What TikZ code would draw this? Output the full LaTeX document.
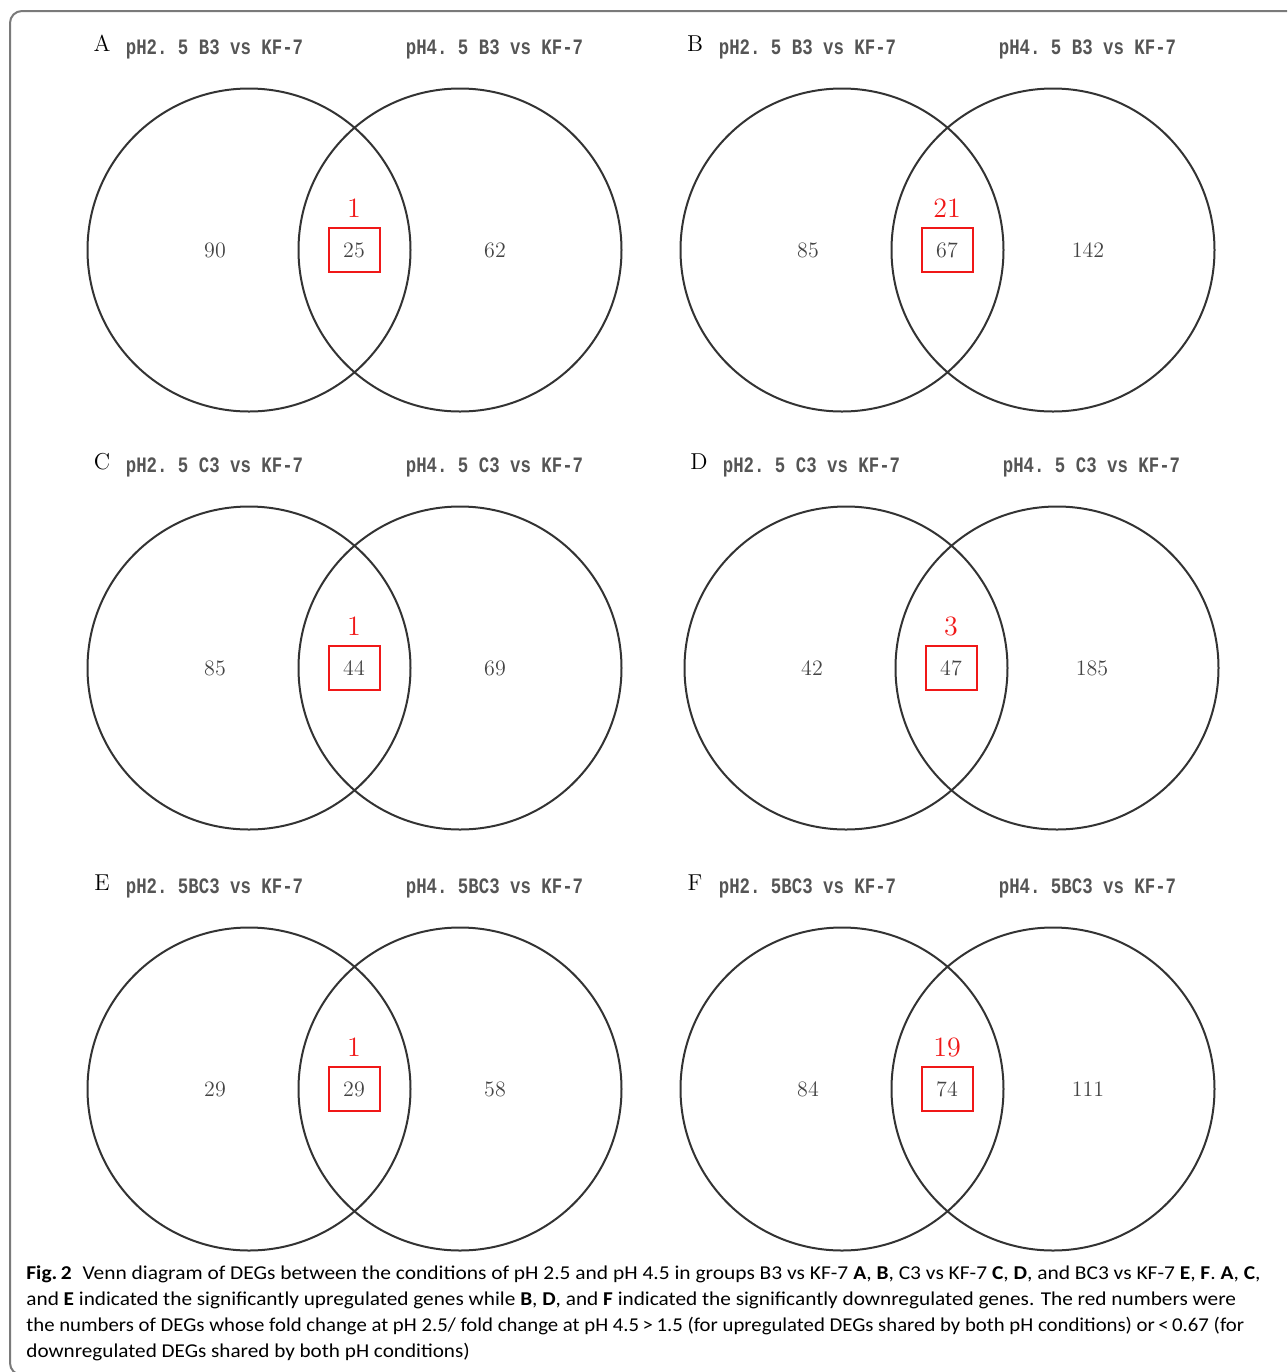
\documentclass[tikz,border=0pt]{standalone}
\usepackage{fontspec}
\newfontfamily\capfont{Carlito}
\newfontfamily\headfont{Liberation Mono}

\definecolor{vennline}{HTML}{333333}
\definecolor{numgray}{HTML}{444444}
\definecolor{headgray}{HTML}{555555}
\definecolor{framegray}{HTML}{7A7A7A}
\definecolor{boxred}{HTML}{F01818}

\newcommand{\headtext}[1]{\scalebox{0.79}[1]{\frenchspacing#1}}
\newcommand{\captext}[2]{\scalebox{#1}[1]{#2}}

\tikzset{
  venncircle/.style={circle, draw=vennline, line width=1pt, minimum size=161.5pt, inner sep=0pt},
  panelletter/.style={anchor=base, inner sep=0pt, font=\fontsize{11.5}{12}\selectfont, text=black},
  venntitle/.style={anchor=base, inner sep=0pt, font=\headfont\bfseries\fontsize{11}{12}\selectfont, text=headgray},
  vennnum/.style={font=\fontsize{11}{12}\selectfont, text=numgray},
  redbox/.style={draw=boxred, line width=1pt, minimum width=25.5pt, minimum height=22pt,
    font=\fontsize{11}{12}\selectfont, text=numgray},
  rednum/.style={font=\fontsize{14}{15}\selectfont, text=boxred},
  capline/.style={anchor=base west, inner sep=0pt, font=\capfont\fontsize{9.8}{11}\selectfont}
}

% one panel: centre of left circle, letter, two titles, three counts, red count
\newcommand{\vennpanel}[8]{%
  \begin{scope}[shift={#1}]
    \node[venncircle] (#2L) at (0,0) {};
    \node[venncircle] (#2R) at (211,0) {};
    \node[panelletter] (#2lab) at (-147,-199) {#2};
    \node[venntitle] (#2tl) at (-34.5,-196) {\headtext{#3}};
    \node[venntitle] (#2tr) at (245.5,-196) {\headtext{#4}};
    \node[vennnum] (#2a) at (-34,0) {#5};
    \node[redbox] (#2b) at (105,0) {#6};
    \node[vennnum] (#2c) at (246,0) {#7};
    \node[rednum] (#2red) at (105,-42) {#8};
  \end{scope}}

\begin{document}
\begin{tikzpicture}[x=0.5pt, y=-0.5pt]

  \useasboundingbox (0,0) rectangle (1287,1372);

  % outer frame, open to the right and below
  \begin{scope}
    \clip (0,0) rectangle (1287,1372);
    \draw[framegray, line width=1pt, rounded corners=6pt] (1310,11) -- (10,11) -- (10,1375) -- (1310,1375);
  \end{scope}

  \vennpanel{(249,250)}{A}{pH2. 5 B3 vs KF-7}{pH4. 5 B3 vs KF-7}{90}{25}{62}{1}
  \vennpanel{(842,250)}{B}{pH2. 5 B3 vs KF-7}{pH4. 5 B3 vs KF-7}{85}{67}{142}{21}
  \vennpanel{(249,668)}{C}{pH2. 5 C3 vs KF-7}{pH4. 5 C3 vs KF-7}{85}{44}{69}{1}
  \vennpanel{(846,668)}{D}{pH2. 5 C3 vs KF-7}{pH4. 5 C3 vs KF-7}{42}{47}{185}{3}
  \vennpanel{(249,1089)}{E}{pH2. 5BC3 vs KF-7}{pH4. 5BC3 vs KF-7}{29}{29}{58}{1}
  \vennpanel{(842,1089)}{F}{pH2. 5BC3 vs KF-7}{pH4. 5BC3 vs KF-7}{84}{74}{111}{19}

  % Caption
  \node[capline] (cap1) at (26,1279) {\captext{1.094}{\textbf{Fig.\,2}\enspace Venn diagram of DEGs between the conditions of pH 2.5 and pH 4.5 in groups B3 vs KF-7 \textbf{A}, \textbf{B}, C3 vs KF-7 \textbf{C}, \textbf{D}, and BC3 vs KF-7 \textbf{E}, \textbf{F}. \textbf{A}, \textbf{C},}};
  \node[capline] (cap2) at (26,1305) {\captext{1.085}{and \textbf{E} indicated the significantly upregulated genes while \textbf{B}, \textbf{D}, and \textbf{F} indicated the significantly downregulated genes. The red numbers were}};
  \node[capline] (cap3) at (26,1331) {\captext{1.06}{the numbers of DEGs whose fold change at pH 2.5/ fold change at pH 4.5\,>\,1.5 (for upregulated DEGs shared by both pH conditions) or\,<\,0.67 (for}};
  \node[capline] (cap4) at (26,1357) {\captext{1.08}{downregulated DEGs shared by both pH conditions)}};

\end{tikzpicture}
\end{document}
